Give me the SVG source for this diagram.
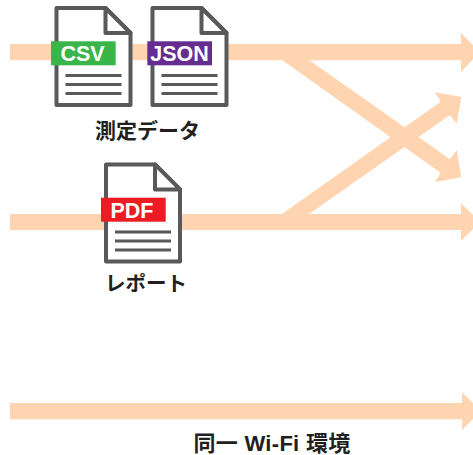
<svg xmlns="http://www.w3.org/2000/svg" width="473" height="455" viewBox="0 0 473 455">
<style>
.flow{fill:#fed5b0}
.page{fill:#fff;stroke:#58595b;stroke-width:4;stroke-linejoin:round}
.rule{stroke:#58595b;stroke-width:3;fill:none}
.tag{font:bold 21.500px "Liberation Sans",Arial,sans-serif;fill:#fff;text-anchor:middle}
.cap{font:bold 21px "Liberation Sans","Noto Sans CJK JP",sans-serif;fill:#231f20;text-anchor:middle}
</style>
<defs>
<g id="doc">
<path class="page" d="M0 0H49L74 25V97H0Z"/>
<path class="page" d="M49 0V25H74Z"/>
<path class="rule" d="M9 67.500H65M9 76.500H65M9 85.500H65"/>
</g>
</defs>
<g id="connectors">
<path class="flow" d="M10 44H461V33L480 52L461 72V60.300H10Z"/>
<path class="flow" d="M10 214H461V203L480 222L461 241V230H10Z"/>
<path class="flow" d="M10 403H462V392L481 411L462 430V419.300H10Z"/>
<path class="flow" d="M282 60L440.700 172.700L435 182L461.300 177.300L456.700 150L450 159.300L309 60Z"/>
<path class="flow" d="M282 214L440.700 101.700L435 92.300L461.300 97L456.700 124L450 115L309 214Z"/>
</g>
<g id="csv">
<use href="#doc" x="56.500" y="8"/>
<rect x="51" y="41.300" width="64.700" height="24" fill="#39b54a"/>
<text class="tag" x="82.500" y="61">CSV</text>
</g>
<g id="json">
<use href="#doc" x="152.500" y="8"/>
<rect x="147.300" y="41.300" width="64.700" height="24" fill="#662d91"/>
<text class="tag" x="179.500" y="61">JSON</text>
</g>
<g id="pdf">
<use href="#doc" x="106" y="164.400"/>
<rect x="101" y="197.700" width="64.700" height="24" fill="#ed1c24"/>
<text class="tag" x="132" y="217.500">PDF</text>
</g>
<text class="cap" x="147.500" y="137.500">測定データ</text>
<text class="cap" x="146" y="291" style="font-size:20.500px">レポート</text>
<text class="cap" x="272" y="450.500" style="font-size:22px" letter-spacing="0.300">同一 Wi-Fi 環境</text>
</svg>
